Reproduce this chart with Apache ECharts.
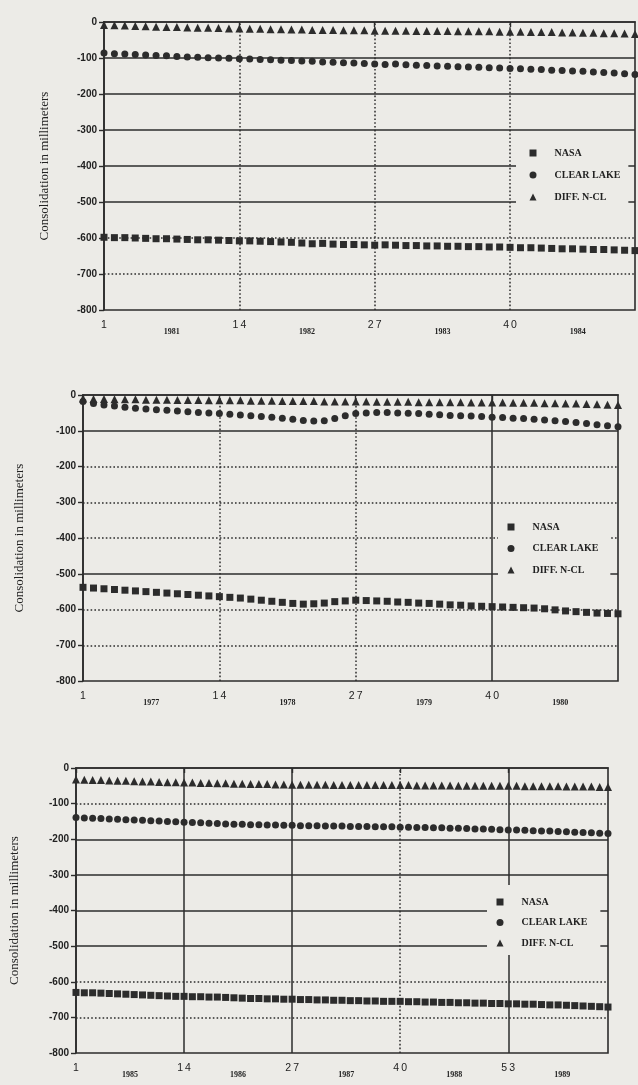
<!DOCTYPE html>
<html><head><meta charset="utf-8">
<script src="https://cdn.jsdelivr.net/npm/echarts@6/dist/echarts.min.js"></script>
<style>html,body{margin:0;padding:0;background:#ecebe7;}#c{width:638px;height:1085px;}</style>
</head><body><div id="c"></div>
<script>
// ---------- DATA ----------
const seriesNames = ['NASA', 'CLEAR LAKE', 'DIFF. N-CL'];
const yTicks = [0, -100, -200, -300, -400, -500, -600, -700, -800];

// Panel 1: 1981-1984 (four-week periods 1..52)
const periodTicks1 = [1, 14, 27, 40];
const years1 = ['1981', '1982', '1983', '1984'];
const nasa1 = [-598,-599,-599,-600,-601,-602,-602,-603,-604,-605,-605,-606,-607,
  -608,-608,-609,-610,-611,-612,-614,-616,-615,-617,-618,-618,-619,
  -620,-619,-620,-621,-621,-622,-622,-623,-623,-624,-624,-625,-625,
  -626,-627,-627,-628,-629,-630,-630,-631,-632,-632,-633,-634,-635];
const clearLake1 = [-86,-88,-89,-90,-92,-93,-94,-96,-97,-98,-99,-100,-101,
  -102,-103,-104,-105,-106,-107,-108,-109,-111,-112,-113,-114,-115,
  -117,-118,-117,-119,-120,-121,-122,-123,-124,-125,-126,-127,-128,
  -129,-130,-131,-132,-134,-135,-136,-137,-139,-140,-142,-144,-146];
const diff1 = [-8,-9,-10,-11,-12,-13,-14,-14,-15,-16,-16,-17,-18,
  -18,-19,-19,-20,-20,-21,-21,-22,-22,-22,-23,-23,-23,
  -24,-24,-24,-24,-25,-25,-25,-25,-26,-26,-26,-26,-27,
  -27,-27,-28,-28,-28,-29,-29,-30,-30,-31,-31,-32,-33];

// Panel 2: 1977-1980 (periods 1..52)
const periodTicks2 = [1, 14, 27, 40];
const years2 = ['1977', '1978', '1979', '1980'];
const nasa2 = [-538,-540,-542,-544,-546,-548,-550,-552,-554,-556,-558,-560,-562,
  -564,-566,-568,-571,-574,-577,-580,-583,-585,-584,-582,-578,-576,
  -574,-575,-576,-577,-579,-580,-582,-583,-585,-587,-588,-590,-591,
  -592,-593,-594,-595,-596,-598,-601,-604,-606,-608,-610,-611,-612];
const clearLake2 = [-18,-24,-28,-31,-34,-37,-39,-41,-43,-45,-47,-49,-50,
  -52,-54,-56,-58,-60,-62,-65,-68,-71,-73,-72,-66,-58,
  -52,-50,-49,-49,-50,-51,-52,-54,-55,-57,-58,-59,-60,
  -62,-63,-65,-66,-68,-70,-72,-74,-77,-80,-83,-86,-89];
const diff2 = [-10,-11,-11,-12,-12,-12,-13,-13,-13,-14,-14,-14,-15,
  -15,-15,-15,-16,-16,-16,-17,-17,-17,-17,-18,-18,-18,
  -18,-18,-19,-19,-19,-19,-20,-20,-20,-20,-20,-21,-21,
  -21,-21,-22,-22,-22,-23,-23,-24,-24,-25,-26,-27,-28];

// Panel 3: 1985-1989 (periods 1..65)
const periodTicks3 = [1, 14, 27, 40, 53];
const years3 = ['1985', '1986', '1987', '1988', '1989'];
const nasa3 = [-630,-631,-631,-632,-633,-634,-635,-636,-637,-638,-639,-640,-641,
  -641,-642,-642,-643,-643,-644,-645,-646,-647,-647,-648,-648,-649,
  -649,-650,-650,-651,-651,-652,-652,-653,-653,-654,-654,-655,-655,
  -655,-656,-656,-657,-657,-658,-658,-659,-659,-660,-660,-661,-661,
  -662,-662,-663,-663,-664,-665,-665,-666,-667,-668,-669,-670,-671];
const clearLake3 = [-139,-140,-141,-142,-143,-144,-145,-146,-147,-148,-149,-150,-151,
  -152,-153,-154,-155,-156,-157,-158,-158,-159,-159,-160,-160,-161,
  -161,-162,-162,-162,-163,-163,-163,-164,-164,-164,-165,-165,-165,
  -166,-166,-167,-167,-168,-168,-169,-169,-170,-171,-171,-172,-173,
  -174,-174,-175,-176,-177,-177,-178,-179,-180,-181,-182,-183,-184];
const diff3 = [-32,-33,-34,-34,-35,-36,-36,-37,-38,-38,-39,-40,-40,
  -41,-41,-42,-42,-43,-43,-44,-44,-45,-45,-45,-46,-46,
  -47,-47,-47,-47,-47,-48,-48,-48,-48,-48,-48,-48,-48,
  -48,-48,-49,-49,-49,-49,-49,-50,-50,-50,-50,-50,-50,
  -50,-50,-51,-51,-51,-51,-51,-52,-52,-52,-52,-53,-53];

// ---------- LAYOUT / STYLE ----------
const INK = '#2c2c2c';
const BG = '#ecebe7';
const panels = [
  { data: [nasa1, clearLake1, diff1], ticks: periodTicks1, years: years1,
    grid: { left: 104, top: 22, width: 531, height: 288 }, nameGap: 53,
    hStyle: ['solid','solid','solid','solid','solid','dotted','dotted'],
    vStyle: ['dotted','dotted','dotted'],
    legend: { left: 516, top: 140, padding: [7, 8, 22, 13.5], itemGap: 10 } },
  { data: [nasa2, clearLake2, diff2], ticks: periodTicks2, years: years2,
    grid: { left: 83, top: 395, width: 535, height: 286 }, nameGap: 57,
    hStyle: ['solid','dotted','dotted','dotted','solid','dotted','dotted'],
    vStyle: ['dotted','dotted','solid'],
    legend: { left: 498, top: 512, padding: [9, 12, 18, 9.5], itemGap: 9.5 } },
  { data: [nasa3, clearLake3, diff3], ticks: periodTicks3, years: years3,
    grid: { left: 71, top: 768, width: 537, height: 285 }, nameGap: 55,
    hStyle: ['dotted','solid','solid','solid','solid','dotted','dotted'],
    vStyle: ['solid','solid','dotted','solid'],
    legend: { left: 487, top: 885, padding: [11, 13, 6, 9.5], itemGap: 8.5 } }
];
const symbols = ['rect', 'circle', 'triangle'];
const symbolSizes = [7, 7, 8];
const dashType = t => t === 'dotted' ? [1.6, 2.2] : 'solid';

const grid = [], xAxis = [], yAxis = [], series = [], legend = [];
panels.forEach((p, pi) => {
  const n = p.data[0].length;
  const yearPos = p.ticks.map(t => t + 6.5);
  grid.push(Object.assign({ show: true, borderColor: INK, borderWidth: 1.6, backgroundColor: 'transparent', z: 0 }, p.grid));
  xAxis.push({
    gridIndex: pi, type: 'value', min: 1, max: n, position: 'bottom', z: 6,
    axisLine: { show: true, lineStyle: { color: INK, width: 1.6 } },
    axisTick: { show: true, customValues: p.ticks, length: 5, lineStyle: { color: INK, width: 1.4 } },
    axisLabel: { customValues: p.ticks, margin: 10, fontSize: 10.5, color: '#222',
      fontFamily: 'Liberation Sans', formatter: v => String(v).split('').join(' ').replace(/ /g, '\u2009') },
    splitLine: { show: false }
  });
  xAxis.push({
    gridIndex: pi, type: 'value', min: 1, max: n, position: 'bottom',
    axisLine: { show: false }, axisTick: { show: false },
    axisLabel: { customValues: yearPos, margin: 18, fontSize: 8, fontWeight: 'bold', color: '#222',
      fontFamily: 'Liberation Serif', formatter: v => p.years[yearPos.indexOf(v)] || '' },
    splitLine: { show: false }
  });
  yAxis.push({
    gridIndex: pi, type: 'value', min: -800, max: 0, interval: 100, z: 6,
    name: 'Consolidation in millimeters', nameLocation: 'middle', nameGap: p.nameGap,
    nameTextStyle: { fontFamily: 'Liberation Serif', fontSize: 13, color: '#222' },
    axisLine: { show: true, lineStyle: { color: INK, width: 1.6 } },
    axisTick: { show: true, length: 5, lineStyle: { color: INK, width: 1.4 } },
    axisLabel: { margin: 7, fontSize: 10, fontWeight: 'bold', color: '#222', fontFamily: 'Liberation Sans' },
    splitLine: { show: false }
  });
  const hLines = yTicks.slice(1, 8).map((v, i) => ({ yAxis: v, lineStyle: { type: dashType(p.hStyle[i]) } }));
  const vLines = p.ticks.slice(1).map((v, i) => ({ xAxis: v, lineStyle: { type: dashType(p.vStyle[i]) } }));
  p.data.forEach((vals, si) => {
    const s = {
      name: seriesNames[si], type: 'scatter', xAxisIndex: pi * 2, yAxisIndex: pi,
      symbol: symbols[si], symbolSize: symbolSizes[si],
      itemStyle: { color: INK, opacity: 1 },
      data: vals.map((v, i) => [i + 1, v]), silent: true, z: 3
    };
    if (si === 0) {
      s.markLine = { silent: true, z: 1, symbol: ['none', 'none'], label: { show: false },
        lineStyle: { color: INK, width: 1.5, opacity: 1 }, animation: false,
        data: hLines.concat(vLines) };
    }
    series.push(s);
  });
  legend.push(Object.assign({
    orient: 'vertical', backgroundColor: BG, itemWidth: 7, itemHeight: 7, z: 10,
    textStyle: { fontFamily: 'Liberation Serif', fontWeight: 'bold', fontSize: 10, color: '#222', lineHeight: 12, padding: [0, 0, 0, 13] },
    itemStyle: { color: INK },
    selectedMode: false,
    data: seriesNames.map((nm, i) => ({ name: nm, icon: symbols[i] }))
  }, p.legend));
});

const chart = echarts.init(document.getElementById('c'), null, { renderer: 'canvas' });
chart.setOption({ backgroundColor: BG, animation: false, grid, xAxis, yAxis, series, legend });
</script></body></html>
